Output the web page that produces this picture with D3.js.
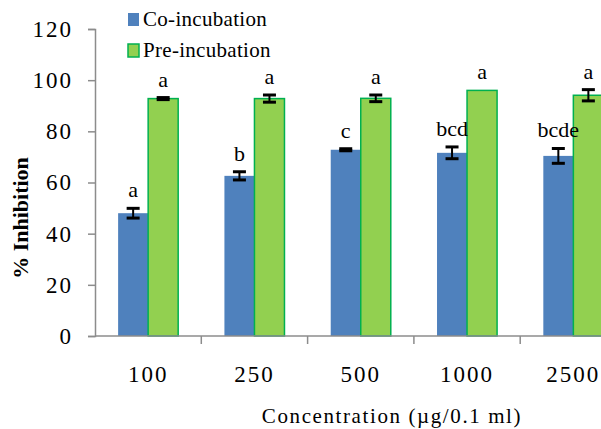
<!DOCTYPE html>
<html>
<head>
<meta charset="utf-8">
<script src="https://cdn.jsdelivr.net/npm/d3@7"></script>
<style>
    body { margin: 0; background: #fff; }
    svg { display: block; }
    text { font-family: "Liberation Serif", "Times New Roman", serif; fill: #000; }
</style>
</head>
<body>
<script>
    'use strict';

    var concentrations = ['100', '250', '500', '1000', '2500'],
        seriesNames = ['Co-incubation', 'Pre-incubation'],
        coValues = [48, 62.6, 72.8, 71.6, 70.4],
        coErrors = [1.9, 1.6, 0.4, 2.3, 2.9],
        coLetters = ['a', 'b', 'c', 'bcd', 'bcde'],
        preValues = [92.8, 92.8, 92.9, 96, 94.1],
        preErrors = [0.4, 1.4, 1.3, 0, 2.2],
        preLetters = ['a', 'a', 'a', 'a', 'a'],
        yTicks = [0, 20, 40, 60, 80, 100, 120];

    var width = 601,
        height = 429,
        colors = { 'Co-incubation': '#4f81bd', 'Pre-incubation': '#92d050' },
        axisColor = '#8c8c8c';

    var rows = concentrations.map(function (c, i) {
        return {
            name: c,
            bars: [
                { series: seriesNames[0], value: coValues[i], err: coErrors[i], letter: coLetters[i] },
                { series: seriesNames[1], value: preValues[i], err: preErrors[i], letter: preLetters[i] }
            ]
        };
    });

    var svg = d3.select('body').append('svg')
        .attr('width', width)
        .attr('height', height);

    svg.append('rect')
        .attr('width', width)
        .attr('height', height)
        .attr('fill', '#fff');

    var x = d3.scaleBand()
        .domain(concentrations)
        .range([95, 95 + 5 * 106.3]);

    var xSub = d3.scaleBand()
        .domain(seriesNames)
        .range([0, x.bandwidth()])
        .paddingOuter(0.77);

    var y = d3.scaleLinear()
        .domain([0, 120])
        .range([336, 29]);

    // bars
    var groups = svg.selectAll('g.group')
        .data(rows)
        .enter()
        .append('g')
        .attr('class', 'group')
        .attr('transform', function (d) {
            return 'translate(' + x(d.name) + ',0)';
        });

    groups.selectAll('rect.bar')
        .data(function (d) { return d.bars; })
        .enter()
        .append('rect')
        .attr('class', 'bar')
        .attr('x', function (d) { return xSub(d.series); })
        .attr('width', xSub.bandwidth())
        .attr('y', function (d) { return y(d.value); })
        .attr('height', function (d) { return y(0) - y(d.value); })
        .attr('fill', function (d) { return colors[d.series]; })
        .attr('stroke', function (d) { return d.series === seriesNames[1] ? '#00b050' : 'none'; })
        .attr('stroke-width', 1.5);

    // error bars
    var errs = groups.selectAll('g.err')
        .data(function (d) { return d.bars.filter(function (b) { return b.err > 0; }); })
        .enter()
        .append('g')
        .attr('class', 'err')
        .attr('stroke', '#000')
        .attr('stroke-width', 3);

    function cx(d) {
        return xSub(d.series) + xSub.bandwidth() / 2;
    }

    errs.append('line')
        .attr('x1', cx).attr('x2', cx)
        .attr('y1', function (d) { return y(d.value + d.err); })
        .attr('y2', function (d) { return y(d.value - d.err); })
        .attr('stroke-width', 2);

    [1, -1].forEach(function (s) {
        errs.append('line')
            .attr('x1', function (d) { return cx(d) - 6.5; })
            .attr('x2', function (d) { return cx(d) + 6.5; })
            .attr('y1', function (d) { return y(d.value + s * d.err); })
            .attr('y2', function (d) { return y(d.value + s * d.err); });
    });

    // letters
    groups.selectAll('text.letter')
        .data(function (d) { return d.bars; })
        .enter()
        .append('text')
        .attr('class', 'letter')
        .attr('x', cx)
        .attr('y', function (d) { return y(d.value + d.err) - 11; })
        .attr('text-anchor', 'middle')
        .style('font-size', '22px')
        .text(function (d) { return d.letter; });

    // y axis
    var yAxis = svg.append('g')
        .attr('transform', 'translate(95,0)')
        .call(d3.axisLeft(y).tickValues(yTicks).tickSize(7).tickPadding(17));

    yAxis.select('.domain').attr('stroke', axisColor).attr('stroke-width', 1.5);
    yAxis.selectAll('.tick line').attr('stroke', axisColor).attr('stroke-width', 1.5);
    yAxis.selectAll('.tick text')
        .attr('fill', '#000')
        .attr('dx', 2)
        .style('letter-spacing', '2px')
        .style('font-size', '23px');

    // x axis
    var xAxis = svg.append('g')
        .attr('transform', 'translate(0,' + y(0) + ')');

    xAxis.append('line')
        .attr('x1', x.range()[0])
        .attr('x2', x.range()[1])
        .attr('stroke', axisColor)
        .attr('stroke-width', 1.5);

    xAxis.selectAll('line.tick')
        .data(concentrations.slice(1))
        .enter()
        .append('line')
        .attr('class', 'tick')
        .attr('x1', function (d) { return x(d); })
        .attr('x2', function (d) { return x(d); })
        .attr('y1', 0)
        .attr('y2', 8)
        .attr('stroke', axisColor)
        .attr('stroke-width', 1.5);

    xAxis.selectAll('text.tick')
        .data(concentrations)
        .enter()
        .append('text')
        .attr('class', 'tick')
        .attr('x', function (d) { return x(d) + x.bandwidth() / 2; })
        .attr('y', 46)
        .attr('text-anchor', 'middle')
        .style('letter-spacing', '2px')
        .style('font-size', '23px')
        .text(function (d) { return d; });

    // axis titles
    svg.append('text')
        .attr('x', 392)
        .attr('y', 423)
        .attr('text-anchor', 'middle')
        .style('font-size', '21px')
        .style('letter-spacing', '1.6px')
        .text('Concentration (\u00b5g/0.1 ml)');

    svg.append('text')
        .attr('transform', 'translate(28,218) rotate(-90)')
        .attr('text-anchor', 'middle')
        .style('font-size', '22px')
        .style('font-weight', 'bold')
        .text('% Inhibition');

    // legend
    var legend = svg.selectAll('g.legend')
        .data(seriesNames)
        .enter()
        .append('g')
        .attr('class', 'legend')
        .attr('transform', function (d, i) {
            return 'translate(128,' + (13 + i * 31) + ')';
        });

    legend.append('rect')
        .attr('width', 11)
        .attr('height', 13)
        .attr('fill', function (d) { return colors[d]; })
        .attr('stroke', function (d, i) { return i === 1 ? '#00b050' : 'none'; })
        .attr('stroke-width', 1.5);

    legend.append('text')
        .attr('x', 15)
        .attr('y', 13)
        .style('font-size', '21px')
        .style('letter-spacing', '0.3px')
        .text(function (d) { return d; });
</script>
</body>
</html>
